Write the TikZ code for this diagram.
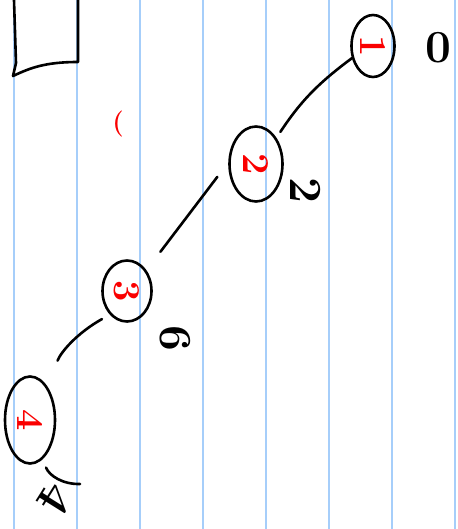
\documentclass[tikz,border=0pt]{standalone}
\usepackage{graphicx}
\usepackage{tikz}
\usetikzlibrary{shapes.geometric}
\definecolor{ruleblue}{RGB}{166,206,250}
\definecolor{inkred}{RGB}{250,0,0}

\begin{document}
\begin{tikzpicture}[
    x=1pt, y=-1pt,
    ink/.style={line width=2.6pt, line cap=round, line join=round},
    vert/.style={ellipse, draw, ink, inner sep=0pt, text=inkred, font=\fontsize{38}{38}\selectfont\bfseries},
    tag/.style={font=\fontsize{46}{46}\selectfont\bfseries, inner sep=0pt}
]
\useasboundingbox (0,0) rectangle (457,529);

% Ruled paper
\foreach \i in {0,...,7}
  \draw[ruleblue, line width=1.5pt] ({14+63*\i},0) -- ({14+63*\i},529);

% Box at top left
\draw[ink] (14,0) -- (16,63) -- (13,76) .. controls (30,68) and (45,62) .. (78,62) -- (78,0);

% Nodes
\node[vert, minimum width=43, minimum height=62] (n1) at (373,46) {\rotatebox{-90}{1}};
\node[vert, minimum width=53, minimum height=75] (n2) at (256,164) {\rotatebox{-90}{2}};
\node[vert, minimum width=49, minimum height=61] (n3) at (127,291) {\rotatebox{-90}{3}};
\node[vert, minimum width=50, minimum height=87] (n4) at (30,420) {\rotatebox{-90}{4}};

% Labels
\node[tag] (l1) at (438,48) {0};
\node[tag, rotate=-90] (l2) at (306,190) {2};
\node[tag, rotate=-90] (l3) at (175,338) {6};
\node[tag, rotate=-122, font=\fontsize{48}{48}\selectfont\bfseries] (l4) at (56,499) {4};
\node[text=inkred, font=\fontsize{26}{26}\selectfont\bfseries, inner sep=0pt] (m1) at (118,124) {(};

% Edges
\coordinate (e4) at (80,484);
\draw[ink, shorten <=7pt] (n2.52) to[bend left=10] (n1.210);
\draw[ink, shorten <=23pt, shorten >=18pt] (n3.47) -- (n2.177);
\draw[ink, shorten <=28pt, shorten >=9pt] (n4.62) to[bend left=20] (n3.234);
\draw[ink, shorten <=9pt] (n4.-72) to[bend right=35] (e4);

\end{tikzpicture}
\end{document}
